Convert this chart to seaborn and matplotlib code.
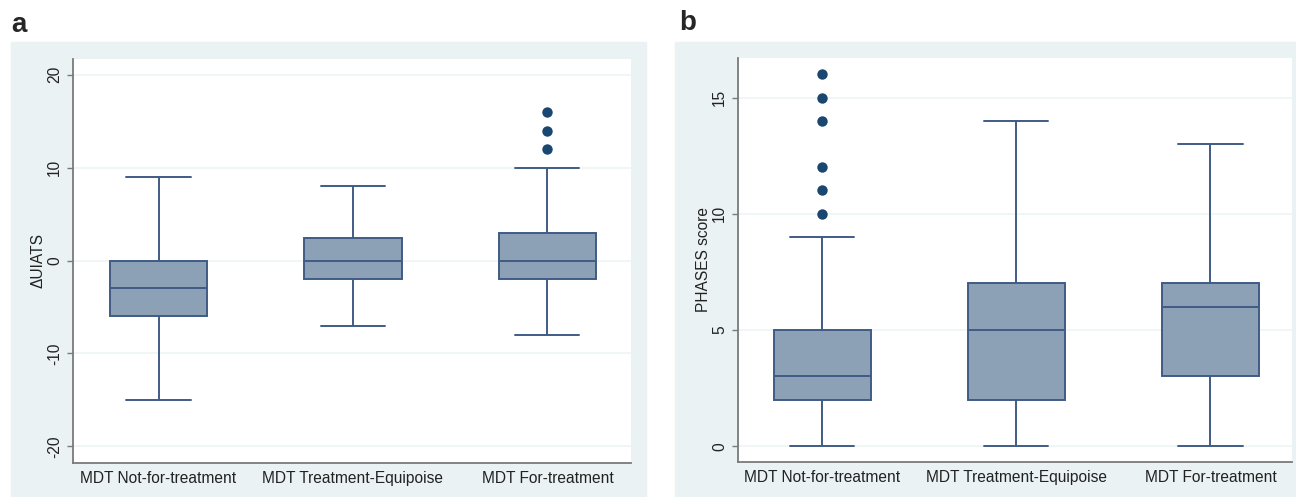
import numpy as np
import pandas as pd
import matplotlib
matplotlib.use("Agg")
import matplotlib.pyplot as plt
import seaborn as sns
from matplotlib.patches import Rectangle

categories = ["MDT Not-for-treatment", "MDT Treatment-Equipoise", "MDT For-treatment"]

# Panel a: ΔUIATS (five-number summaries)
a_low = [-15, -7, -8]
a_q1 = [-6, -2, -2]
a_med = [-3, 0, 0]
a_q3 = [0, 2.4, 3]
a_high = [9, 8, 10]
a_out_group = ["MDT For-treatment", "MDT For-treatment", "MDT For-treatment"]
a_out_value = [12, 14, 16]
a_yticks = [-20, -10, 0, 10, 20]

# Panel b: PHASES score
b_low = [0, 0, 0]
b_q1 = [2, 2, 3]
b_med = [3, 5, 6]
b_q3 = [5, 7, 7]
b_high = [9, 14, 13]
b_out_group = ["MDT Not-for-treatment"] * 6
b_out_value = [10, 11, 12, 14, 15, 16]
b_yticks = [0, 5, 10, 15]

FILL = "#8DA1B6"
EDGE = "#3F5C85"
DOT = "#1A476F"
BG = "#EAF2F3"
GRID = "#EEF4F5"
AXC = "#7A7A7A"
TXT = "#222222"
FS = 11.2

sns.set_theme(style="white")
plt.rcParams["font.family"] = ["Liberation Sans", "DejaVu Sans"]


def summary_frame(low, q1, med, q3, high):
    rows = []
    for c, lo, a, m, b, hi in zip(categories, low, q1, med, q3, high):
        for v in (lo, a, a, m, b, b, hi):
            rows.append((c, v))
    return pd.DataFrame(rows, columns=["group", "value"])


W, H = 1296, 497
fig = plt.figure(figsize=(W / 100, H / 100), dpi=100)
fig.patch.set_facecolor("white")

# panel background rectangles
fig.patches.append(Rectangle((11 / W, 0), (646 - 11) / W, (H - 42) / H,
                             transform=fig.transFigure, color=BG, zorder=-10))
fig.patches.append(Rectangle((675 / W, 0), (1296 - 675) / W, (H - 42) / H,
                             transform=fig.transFigure, color=BG, zorder=-10))


def make_panel(rect, low, q1, med, q3, high, og, ov, yticks, ylim, xlim, ylabel):
    ax = fig.add_axes(rect)
    ax.set_zorder(1)
    ax.set_facecolor("white")
    df = summary_frame(low, q1, med, q3, high)
    sns.boxplot(data=df, x="group", y="value", order=categories, ax=ax,
                color=FILL, linecolor=EDGE, linewidth=1.4, width=0.5,
                whis=(0, 100), fliersize=0, saturation=1, capwidths=0.33)
    out = pd.DataFrame({"group": og, "value": ov})
    sns.stripplot(data=out, x="group", y="value", order=categories, ax=ax,
                  jitter=False, color=DOT, size=7.5, linewidth=0, zorder=5)
    ax.set_ylim(*ylim)
    ax.set_xlim(*xlim)
    ax.set_yticks(yticks)
    ax.set_yticklabels([str(t) for t in yticks], rotation=90, va="center")
    ax.set_xlabel("")
    ax.set_ylabel(ylabel, fontsize=FS, color=TXT, va="center")
    ax.yaxis.set_label_coords(-0.063, 0.5)
    ax.grid(axis="y", color=GRID, linewidth=1.2)
    ax.set_axisbelow(True)
    for s in ("top", "right"):
        ax.spines[s].set_visible(False)
    for s in ("left", "bottom"):
        ax.spines[s].set_color(AXC)
        ax.spines[s].set_linewidth(1.3)
    ax.tick_params(axis="y", length=4, width=1, color=AXC, labelsize=FS,
                   labelcolor=TXT, pad=4, left=True)
    ax.tick_params(axis="x", length=0, labelsize=FS, labelcolor=TXT, pad=6)
    return ax


axa = make_panel([73 / W, (H - 463) / H, (631 - 73) / W, (463 - 59) / H],
                 a_low, a_q1, a_med, a_q3, a_high, a_out_group, a_out_value,
                 a_yticks, (-21.8, 21.7), (-0.44, 2.43), "ΔUIATS")
axb = make_panel([738 / W, (H - 462) / H, (1292 - 738) / W, (462 - 58) / H],
                 b_low, b_q1, b_med, b_q3, b_high, b_out_group, b_out_value,
                 b_yticks, (-0.68, 16.7), (-0.434, 2.42), "PHASES score")

fig.text(11 / W, 1 - 25 / H, "a", fontsize=20, fontweight="bold", va="center", ha="left")
fig.text(679 / W, 1 - 23 / H, "b", fontsize=20, fontweight="bold", va="center", ha="left")

fig.savefig("out.png", dpi=100)
